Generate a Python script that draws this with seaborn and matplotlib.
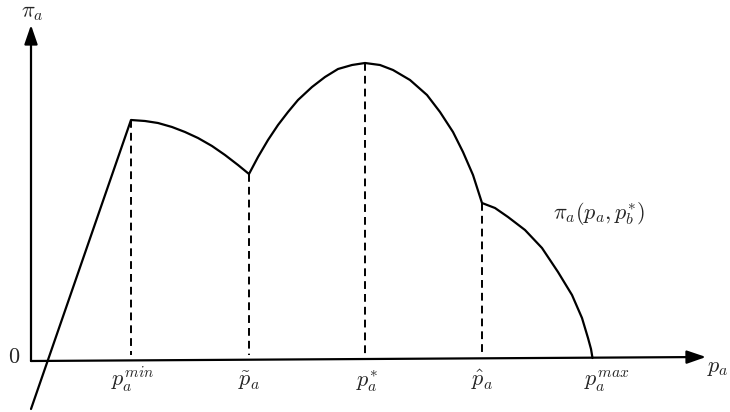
import numpy as np
import matplotlib
matplotlib.use("Agg")
import matplotlib.pyplot as plt
import seaborn as sns

## Profit curve pi_a(p_a, p_b*) (arbitrary units)
price = [0, 100,
         114, 127, 141, 154, 167, 181, 194, 207, 218,
         227, 237, 247, 257, 267, 281, 294, 307, 321, 334,
         349, 362, 379, 396, 409, 422, 432, 442, 451,
         464, 477, 494, 511, 527, 541, 551, 557, 560, 561.5]
profit = [-48, 241,
          240, 238, 234, 229, 223, 215, 206, 196, 187,
          204, 221, 236, 249, 261, 274, 284, 292, 296, 298,
          296, 291, 281, 266, 249, 229, 209, 186, 158,
          153, 144, 131, 113, 89, 66, 43, 23, 12, 3]

## Marked prices on the horizontal axis
key_prices = [100, 218, 334, 451, 561.5]
key_profit = [241, 187, 298, 158, 4]
tick_labels = [r"$p_a^{min}$", r"$\tilde{p}_a$", r"$p_a^{*}$", r"$\hat{p}_a$", r"$p_a^{max}$"]

sns.set_theme(style="white")
plt.rcParams["mathtext.fontset"] = "cm"
plt.rcParams["font.family"] = ["DejaVu Serif"]

fig = plt.figure(figsize=(7.3, 4.12), dpi=100)
ax = fig.add_axes([0, 0, 1, 1])
ax.set_xlim(-31, 699)
ax.set_ylim(-51, 361)
ax.axis("off")

# axes with arrow heads
arrow = dict(arrowstyle="-|>,head_length=0.58,head_width=0.2", lw=1.6,
             color="black", shrinkA=0, shrinkB=0, mutation_scale=20)
ax.annotate("", xy=(675, 4), xytext=(0, 0), arrowprops=arrow)
ax.annotate("", xy=(0, 336), xytext=(0, 0), arrowprops=arrow)

# profit curve
sns.lineplot(x=price, y=profit, sort=False, estimator=None, color="black",
             lw=1.6, ax=ax)

# dashed guides down to the axis
for p, v in zip(key_prices[:-1], key_profit[:-1]):
    ax.plot([p, p], [v, 6], color="black", lw=1.4, linestyle=(0, (4, 2.6)))

# labels under the axis (small nudges so the p sits on its tick)
nudge = [2, 0, 2, 0, 14]
for p, lab, dx in zip(key_prices, tick_labels, nudge):
    ax.text(p + dx, -25, lab, ha="center", va="baseline", fontsize=16)

ax.text(-17, 4, r"$0$", ha="center", va="center", fontsize=16)
ax.text(1, 349, r"$\pi_a$", ha="center", va="center", fontsize=16)
ax.text(687, -6, r"$p_a$", ha="center", va="center", fontsize=16)
ax.text(522, 148, r"$\pi_a(p_a, p_b^{*})$", ha="left", va="center", fontsize=16)

fig.savefig("out.png", dpi=100)
